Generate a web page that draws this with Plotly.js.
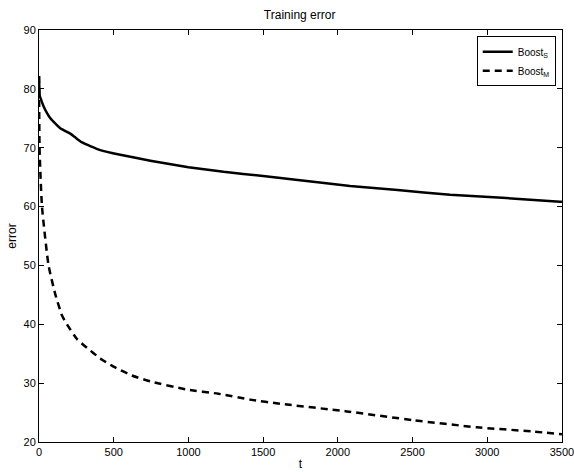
<!DOCTYPE html>
<html><head><meta charset="utf-8">
<script src="https://cdn.plot.ly/plotly-3.0.1.min.js"></script>
<style>html,body{margin:0;padding:0;background:#fff}#c{width:574px;height:472px}</style>
</head><body><div id="c"></div>
<script>
const tS = [0, 5, 9, 31, 76, 142, 209, 240, 288, 410, 544, 745, 1000, 1235, 1500, 1703, 2082, 2400, 2751, 3100, 3487, 3500];
const errS = [82.2, 78.8, 78.5, 77.0, 75.0, 73.3, 72.4, 71.8, 70.9, 69.6, 68.8, 67.8, 66.7, 65.9, 65.2, 64.6, 63.5, 62.8, 62.0, 61.5, 60.8, 60.8];
const tM = [0, 4, 20, 64, 110, 154, 187, 254, 321, 410, 499, 622, 745, 990, 1200, 1413, 1614, 2060, 2506, 2930, 3300, 3500];
const errM = [82.2, 69.6, 60.0, 50.0, 45.0, 41.5, 40.0, 37.5, 36.0, 34.2, 32.8, 31.3, 30.3, 28.9, 28.2, 27.2, 26.5, 25.2, 23.7, 22.5, 21.8, 21.3];
const xTicks = [0, 500, 1000, 1500, 2000, 2500, 3000, 3500];
const yTicks = [20, 30, 40, 50, 60, 70, 80, 90];
const names = ['Boost<sub>S</sub>', 'Boost<sub>M</sub>'];

const traces = [
  {x: tS, y: errS, mode: 'lines', name: names[0], line: {color: '#000', width: 2.5, shape: 'spline', smoothing: 0.5}},
  {x: tM, y: errM, mode: 'lines', name: names[1], line: {color: '#000', width: 2.5, dash: '7px,5px', shape: 'spline', smoothing: 0.5}}
];
const axBase = {
  showgrid: false, zeroline: false, showline: true, mirror: 'ticks',
  linecolor: '#000', linewidth: 1, ticks: 'inside', ticklen: 5, tickcolor: '#000',
  ticklabeloverflow: 'allow',
  tickfont: {family: 'Liberation Sans, Arial, sans-serif', size: 11, color: '#000'}
};
const layout = {
  width: 574, height: 472,
  margin: {l: 39, r: 12, t: 30, b: 30},
  paper_bgcolor: '#fff', plot_bgcolor: '#fff',
  font: {family: 'Liberation Sans, Arial, sans-serif', size: 11, color: '#000'},
  title: {text: 'Training error', x: 0.522, xanchor: 'center', y: 0.968, yanchor: 'middle', font: {size: 12, color: '#000'}},
  xaxis: Object.assign({}, axBase, {range: [-0.01, 3500.5], tickvals: xTicks, ticktext: xTicks.map(String),
    title: {text: 't', standoff: 2, font: {size: 12}}}),
  yaxis: Object.assign({}, axBase, {range: [19.999, 90.001], tickvals: yTicks, ticktext: yTicks.map(String),
    title: {text: 'error', standoff: 4, font: {size: 12}}}),
  showlegend: true,
  legend: {x: 0.988, xanchor: 'right', y: 0.985, yanchor: 'top', bgcolor: '#fff', bordercolor: '#000', borderwidth: 1,
    font: {size: 10}, itemwidth: 30, tracegroupgap: 0}
};
Plotly.newPlot('c', traces, layout, {staticPlot: true, displayModeBar: false});
</script></body></html>
